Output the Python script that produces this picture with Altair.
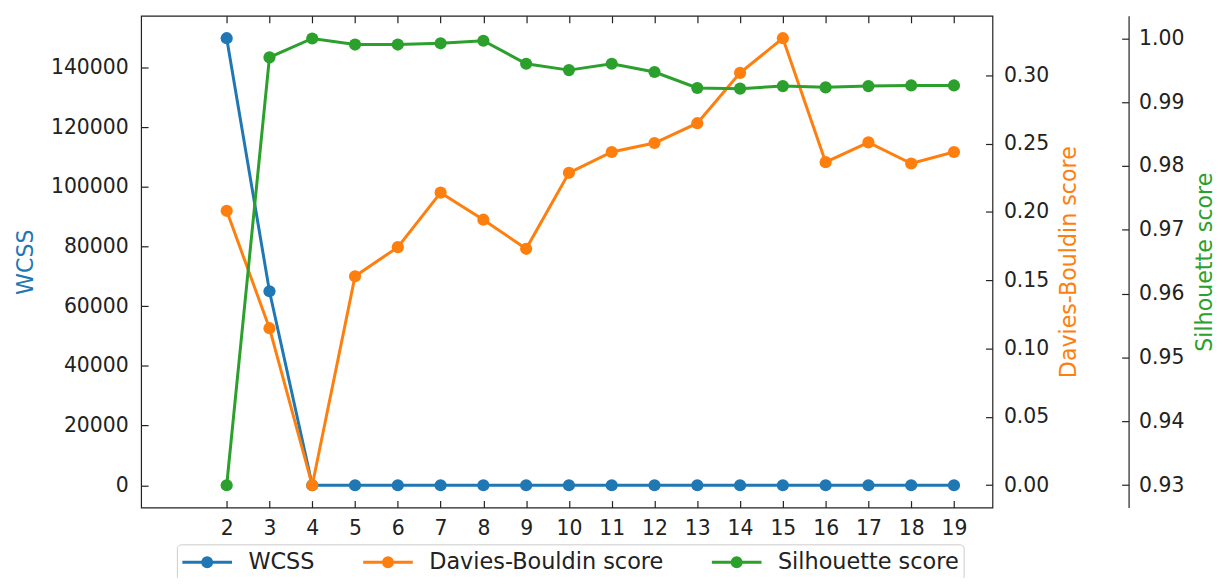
import altair as alt
import pandas as pd

# ---- data ----
k_values = [2, 3, 4, 5, 6, 7, 8, 9, 10, 11, 12, 13, 14, 15, 16, 17, 18, 19]
wcss = [149800, 65000, 0, 0, 0, 0, 0, 0, 0, 0, 0, 0, 0, 0, 0, 0, 0, 0]
davies_bouldin = [0.2008, 0.1149, 0.0, 0.1529, 0.1742, 0.2141, 0.1943, 0.1730,
                  0.2286, 0.2438, 0.2504, 0.2649, 0.3017, 0.3271, 0.2364, 0.2509,
                  0.2354, 0.2438]
silhouette = [0.9300, 0.9970, 0.99995, 0.9990, 0.9990, 0.9992, 0.9996, 0.9960,
              0.9950, 0.9960, 0.9947, 0.9922, 0.9921, 0.9925, 0.9923, 0.9925,
              0.9926, 0.9926]
series_names = ["WCSS", "Davies-Bouldin score", "Silhouette score"]
series_colors = ["#1f77b4", "#ff7f0e", "#2ca02c"]
wcss_ticks = [0, 20000, 40000, 60000, 80000, 100000, 120000, 140000]
db_ticks = [0.0, 0.05, 0.10, 0.15, 0.20, 0.25, 0.30]
sil_ticks = [0.93, 0.94, 0.95, 0.96, 0.97, 0.98, 0.99, 1.00]

rows = []
for name, vals in zip(series_names, [wcss, davies_bouldin, silhouette]):
    for k, v in zip(k_values, vals):
        rows.append({"k": k, "value": v, "series": name})
df = pd.DataFrame(rows)

FONT = "DejaVu Sans"
INK = "#222222"
TICK = 7
LBL = 20.5
TTL = 22.3

x_scale = alt.Scale(domain=[0, 19.9], nice=False, zero=False)

legend_path = ("M-1,0L1,0"
               "M0.06,0A0.06,0.06,0,1,1,-0.06,0A0.06,0.06,0,1,1,0.06,0"
               "M0.18,0A0.18,0.18,0,1,1,-0.18,0A0.18,0.18,0,1,1,0.18,0")
legend = alt.Legend(
    title=None, orient="none", legendX=36, legendY=532, direction="horizontal",
    symbolType=legend_path, symbolSize=2500, symbolStrokeWidth=3, symbolOpacity=1,
    clipHeight=28,
    labelFont=FONT, labelFontSize=22.5, labelColor=INK, labelOffset=15, labelLimit=600,
    columnPadding=47, padding=4, strokeColor="#cccccc", fillColor="white",
    cornerRadius=4,
)
color = alt.Color("series:N", scale=alt.Scale(domain=series_names, range=series_colors),
                  legend=legend)

line_kw = dict(strokeWidth=3, point=alt.OverlayMarkDef(filled=True, size=150, opacity=1))


def series_chart(name):
    return alt.Chart(df).transform_filter(alt.datum.series == name)


wcss_layer = series_chart("WCSS").mark_line(**line_kw).encode(
    x=alt.X("k:Q", scale=x_scale,
            axis=alt.Axis(orient="bottom", values=k_values, format="d", offset=-TICK,
                          tickSize=TICK, domain=False, grid=False, labelPadding=11,
                          title=None, labelFontSize=LBL)),
    y=alt.Y("value:Q", scale=alt.Scale(domain=[-7490, 157290], nice=False, zero=False),
            axis=alt.Axis(orient="left", values=wcss_ticks, format="d", offset=-TICK,
                          tickSize=TICK, domain=False, grid=False, labelPadding=13,
                          title="WCSS", titleColor=series_colors[0], titlePadding=13,
                          labelFontSize=LBL)),
    color=color,
)

db_layer = series_chart("Davies-Bouldin score").mark_line(**line_kw).encode(
    x=alt.X("k:Q", scale=x_scale,
            axis=alt.Axis(orient="top", values=k_values, labels=False, offset=-TICK,
                          tickSize=TICK, domain=False, grid=False, title=None)),
    y=alt.Y("value:Q", scale=alt.Scale(domain=[-0.01636, 0.34346], nice=False, zero=False),
            axis=alt.Axis(orient="right", values=db_ticks, format=".2f", offset=-TICK,
                          tickSize=TICK, domain=False, grid=False, labelPadding=11,
                          title="Davies-Bouldin score", titleColor=series_colors[1],
                          titleAngle=270, titleBaseline="top", titlePadding=9,
                          labelFontSize=LBL)),
    color=color,
)

sil_layer = series_chart("Silhouette score").mark_line(**line_kw).encode(
    x=alt.X("k:Q", scale=x_scale, axis=None),
    y=alt.Y("value:Q", scale=alt.Scale(domain=[0.9265, 1.0035], nice=False, zero=False),
            axis=alt.Axis(orient="right", values=sil_ticks, format=".2f", offset=130,
                          tickSize=TICK, domain=False, grid=False, labelPadding=10,
                          title="Silhouette score", titleColor=series_colors[2],
                          titleAngle=270, titleBaseline="top", titlePadding=10,
                          labelFontSize=LBL)),
    color=color,
)

# spine of the third axis
sil_spine = series_chart("Silhouette score").mark_point(opacity=0).encode(
    x=alt.X("k:Q", scale=x_scale, axis=None),
    y=alt.Y("value:Q", scale=alt.Scale(domain=[0.9265, 1.0035], nice=False, zero=False),
            axis=alt.Axis(orient="right", offset=137, ticks=False, labels=False,
                          domain=True, grid=False, title=None)),
)

chart = alt.layer(wcss_layer, db_layer, sil_layer, sil_spine).resolve_scale(
    y="independent", x="shared"
).resolve_axis(
    y="independent", x="independent"
).properties(
    width=857, height=495,
    autosize=alt.AutoSizeParams(type="none"),
    padding={"left": 134, "top": 6, "right": 226, "bottom": 69},
).configure_view(
    stroke=INK, strokeWidth=1.2
).configure_axis(
    labelFont=FONT, titleFont=FONT, labelColor=INK, tickColor=INK, tickWidth=1.2,
    domainColor=INK, domainWidth=1.2, titleFontWeight="normal", titleFontSize=TTL,
)

chart.save("out.html", embed_options={"renderer": "svg", "actions": False})
